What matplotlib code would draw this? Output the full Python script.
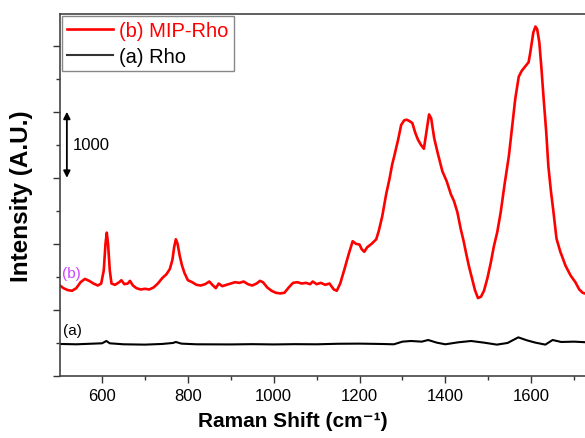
import matplotlib.pyplot as plt
import matplotlib.ticker as ticker

plt.rcParams['font.family'] = ['Liberation Sans', 'DejaVu Sans']

# spettro MIP-Rho (b)
shift_b = [502, 510, 520, 530, 540, 550, 560, 570, 580, 590, 598, 604, 608, 611, 614, 618,
           622, 630, 640, 645, 652, 660, 665, 672, 680, 690, 700, 710, 720, 730, 740, 750,
           758, 764, 768, 772, 776, 781, 786, 792, 800, 810, 820, 830, 840, 850, 857, 865,
           872, 880, 890, 900, 910, 920, 930, 940, 950, 960, 968, 975, 985, 995, 1005, 1015,
           1025, 1035, 1045, 1055, 1065, 1075, 1085, 1091, 1100, 1110, 1120, 1130, 1140, 1147,
           1155, 1165, 1175, 1184, 1192, 1200, 1205, 1211, 1218, 1228, 1239, 1245, 1253, 1262,
           1270, 1276, 1281, 1290, 1297, 1304, 1310, 1316, 1323, 1330, 1336, 1343, 1350, 1356,
           1362, 1367, 1374, 1382, 1393, 1403, 1413, 1420, 1428, 1436, 1442, 1448, 1455, 1462,
           1469, 1476, 1483, 1490, 1498, 1506, 1513, 1521, 1529, 1538, 1548, 1556, 1563, 1571,
           1578, 1588, 1594, 1598, 1605, 1610, 1614, 1619, 1624, 1629, 1635, 1640, 1646, 1652,
           1659, 1668, 1680, 1692, 1703, 1712, 1720, 1730, 1745]
int_b = [1370, 1330, 1300, 1290, 1330, 1420, 1470, 1440, 1400, 1370, 1400, 1600, 2000, 2170, 2000, 1600,
         1400, 1380, 1420, 1450, 1390, 1400, 1440, 1370, 1330, 1310, 1320, 1310, 1340, 1400, 1480, 1540,
         1620, 1760, 1950, 2070, 2000, 1820, 1680, 1560, 1450, 1420, 1380, 1370, 1390, 1430, 1380, 1330,
         1400, 1360, 1380, 1400, 1420, 1410, 1430, 1390, 1370, 1400, 1440, 1420, 1340, 1290, 1260, 1250,
         1260, 1340, 1410, 1420, 1400, 1410, 1390, 1430, 1390, 1410, 1380, 1400, 1310, 1290,
         1400, 1620, 1850, 2040, 2000, 1990, 1920, 1880, 1950, 2000, 2070, 2200, 2420, 2750,
         2990, 3200, 3330, 3580, 3800, 3870, 3880, 3860, 3830, 3680, 3580, 3500, 3440, 3700,
         3960, 3900, 3600, 3380, 3100, 2950, 2750, 2650, 2480, 2220, 2060, 1870, 1660, 1480,
         1300, 1180, 1200, 1290, 1480, 1720, 1960, 2180, 2480, 2900, 3330, 3800, 4200, 4530,
         4620, 4700, 4750, 4900, 5200, 5290, 5250, 5050, 4650, 4200, 3700, 3180, 2800, 2480,
         2080, 1880, 1670, 1520, 1420, 1310, 1260, 1240, 1230]

# spettro Rho (a)
shift_a = [502, 540, 580, 600, 610, 618, 650, 700, 740, 765, 772, 785, 820, 900, 950, 1000,
           1050, 1100, 1150, 1200, 1250, 1280, 1300, 1320, 1345, 1360, 1380, 1400, 1430, 1460,
           1490, 1520, 1545, 1570, 1590, 1610, 1633, 1650, 1670, 1700, 1745]
int_a = [485, 480, 490, 495, 530, 495, 480, 475, 485, 500, 515, 490, 480, 478, 482, 478,
         482, 480, 488, 490, 485, 480, 520, 530, 520, 545, 505, 480, 510, 530,
         505, 475, 500, 585, 540, 505, 475, 545, 515, 520, 505]

x_ticks = [600, 800, 1000, 1200, 1400, 1600]

fig = plt.figure(figsize=(5.85, 4.39), dpi=100)
# l'asse continua oltre il bordo destro (immagine tagliata)
ax = fig.add_axes([60 / 585, 62 / 439, 557 / 585, 362 / 439])

ax.plot(shift_b, int_b, color='#ff0000', lw=1.9, label='(b) MIP-Rho')
ax.plot(shift_a, int_a, color='black', lw=1.5, label='(a) Rho')

ax.set_xlim(502, 1800)
ax.set_ylim(0, 5480)

ax.xaxis.set_major_locator(ticker.FixedLocator(x_ticks))
ax.xaxis.set_minor_locator(ticker.MultipleLocator(100))
ax.yaxis.set_major_locator(ticker.MultipleLocator(1000))
ax.yaxis.set_minor_locator(ticker.MultipleLocator(500))
ax.yaxis.set_major_formatter(ticker.NullFormatter())
ax.tick_params(which='major', direction='out', length=5, width=1, labelsize=12, color='#333333')
ax.tick_params(which='minor', direction='out', length=3, width=1, color='#333333')
for s in ax.spines.values():
    s.set_color('#444444')
    s.set_linewidth(1.2)

ax.set_ylabel('Intensity (A.U.)', fontsize=17.5, fontweight='bold')
ax.yaxis.set_label_coords(-27 / 557, 0.5)
fig.text(293 / 585, 1 - 422 / 439, 'Raman Shift (cm\u207b\u00b9)', fontsize=15,
         fontweight='bold', ha='center', va='center')

# freccia di scala
ax.annotate('', xy=(518, 3000), xytext=(518, 4000),
            arrowprops=dict(arrowstyle='<|-|>', color='black', lw=1.3, shrinkA=0, shrinkB=0,
                            mutation_scale=10))
ax.text(531, 3500, '1000', fontsize=12, va='center', ha='left')

ax.text(506, 1560, '(b)', color='#cc44ff', fontsize=11, va='center')
ax.text(510, 690, '(a)', color='black', fontsize=11, va='center')

leg = ax.legend(loc='upper left', fontsize=14.5, handlelength=2.3, borderaxespad=0.1,
                fancybox=False, edgecolor='#888888', framealpha=1, borderpad=0.25,
                labelspacing=0.35, handletextpad=0.3, handleheight=0.7)
for t, c in zip(leg.get_texts(), ['#ff0000', 'black']):
    t.set_color(c)
leg.get_lines()[1].set_color('#333333')

fig.savefig('out.png', dpi=100)
plt.close()
